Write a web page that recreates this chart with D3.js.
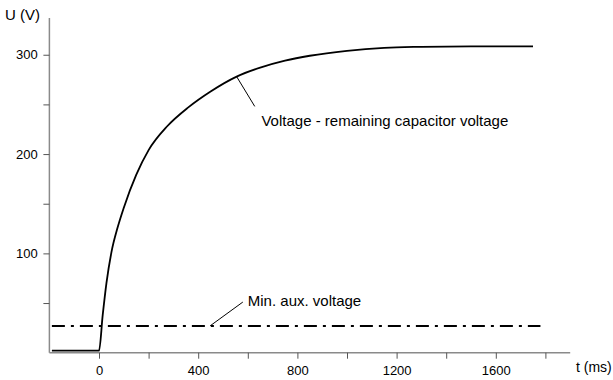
<!DOCTYPE html>
<html><head><meta charset="utf-8">
<script src="https://cdn.jsdelivr.net/npm/d3@7"></script>
<style>
html,body{margin:0;padding:0;background:#fff;}
svg text{font-family:"Liberation Sans",Arial,sans-serif;fill:#000;}
</style></head>
<body><svg id="c" width="613" height="380"></svg>
<script>
// Data
const timeMs = [-190, 0, 15, 30, 50, 75, 100, 150, 200, 275, 360, 450, 555, 650, 750, 850, 1000, 1150, 1300, 1500, 1750];
const voltageV = [2, 2, 38, 70, 101, 126, 146, 179, 204, 228, 247, 263, 278, 287, 294, 299, 304, 307, 308, 308.5, 308.5];
const minAuxT = [-190, 1780];
const minAuxV = [27, 27];
const xTickValues = [0, 200, 400, 600, 800, 1000, 1200, 1400, 1600, 1800];
const xTickLabels = ["0", "", "400", "", "800", "", "1200", "", "1600", ""];
const yTickValues = [50, 100, 150, 200, 250, 300];
const yTickLabels = ["", "100", "", "200", "", "300"];
const curveLabel = "Voltage - remaining capacitor voltage";
const auxLabel = "Min. aux. voltage";

const svg = d3.select("#c");
const x = d3.scaleLinear().domain([-200, 1900]).range([49.4, 570.2]);
const y = d3.scaleLinear().domain([0, 337]).range([352.7, 18]);

// axes
const xAxis = d3.axisBottom(x).tickValues(xTickValues).tickSize(6)
  .tickFormat((d,i) => xTickLabels[i]);
const gx = svg.append("g").attr("transform", `translate(0,${y(0)})`).call(xAxis);
const yAxis = d3.axisLeft(y).tickValues(yTickValues).tickSize(6)
  .tickFormat((d,i) => yTickLabels[i]);
const gy = svg.append("g").attr("transform", `translate(${x(-200)},0)`).call(yAxis);
[gx, gy].forEach(g => {
  g.select(".domain").attr("stroke", "#8a8a8a").attr("stroke-width", 1.5);
  g.selectAll(".tick line").attr("stroke", "#555").attr("stroke-width", 1);
  g.selectAll(".tick text").attr("font-size", 13).attr("font-family", "Liberation Sans, Arial, sans-serif").attr("fill", "#000");
});
gx.select(".domain").attr("d", `M${x(-200)},0H${x(1900)}`);
gy.select(".domain").attr("d", `M0,${y(0)}V${y(337)}`);
gx.selectAll(".tick text").attr("dy", "1.05em");
gy.selectAll(".tick text").attr("dx", "-0.2em");

// axis titles
svg.append("text").attr("x", 5).attr("y", 20).attr("font-size", 15).text("U (V)");
svg.append("text").attr("x", 576).attr("y", 372).attr("font-size", 14).text("t (ms)");

// min aux voltage line
const line = d3.line().x(d => x(d[0])).y(d => y(d[1]));
svg.append("path").datum(d3.zip(minAuxT, minAuxV))
  .attr("d", line).attr("fill", "none").attr("stroke", "#000")
  .attr("stroke-width", 2).attr("stroke-dasharray", "13,6,3,6");

// voltage curve
const curve = d3.line().x(d => x(d[0])).y(d => y(d[1])).curve(d3.curveMonotoneX);
svg.append("path").datum(d3.zip(timeMs, voltageV))
  .attr("d", curve).attr("fill", "none").attr("stroke", "#000").attr("stroke-width", 1.8);

// annotations
svg.append("line").attr("x1", x(555)).attr("y1", y(278)).attr("x2", x(628)).attr("y2", y(248))
  .attr("stroke", "#000").attr("stroke-width", 1);
svg.append("text").attr("x", x(655)).attr("y", y(228)).attr("font-size", 15).text(curveLabel);
svg.append("line").attr("x1", x(448)).attr("y1", y(27)).attr("x2", x(580)).attr("y2", y(51))
  .attr("stroke", "#000").attr("stroke-width", 1);
svg.append("text").attr("x", x(600)).attr("y", y(47)).attr("font-size", 15).text(auxLabel);
</script></body></html>
